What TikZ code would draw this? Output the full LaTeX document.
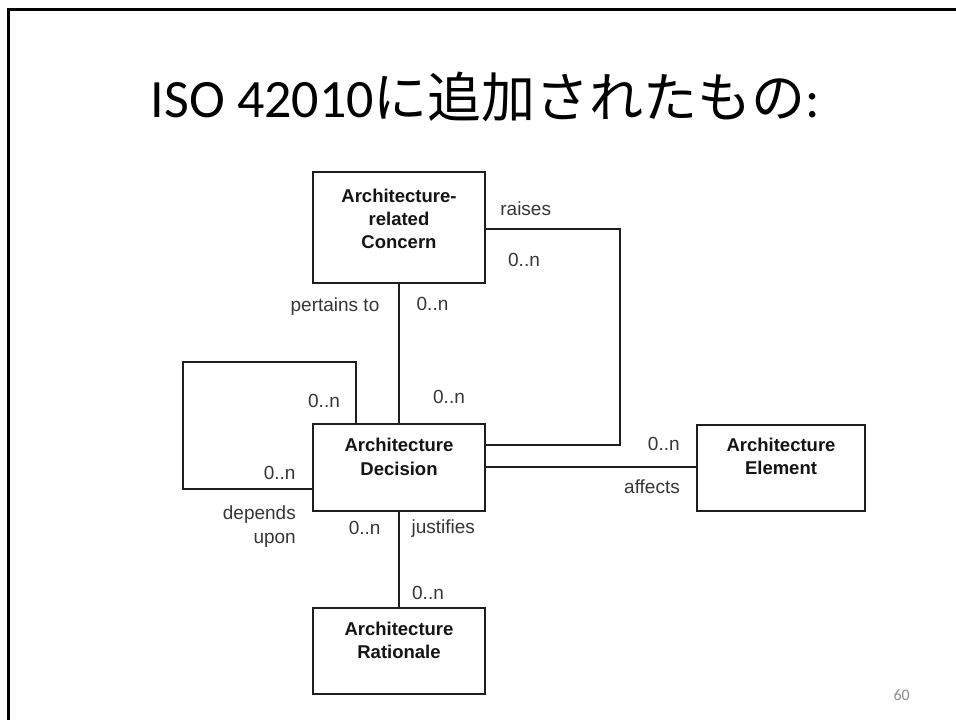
\documentclass[tikz,border=0pt]{standalone}
\usepackage{fontspec}
\setmainfont{Liberation Sans}
\newfontfamily\titlefont{Carlito}
\newfontfamily\cjk{Noto Sans CJK JP}
\usetikzlibrary{calc}
\definecolor{linecol}{HTML}{1E1E1E}
\definecolor{boldcol}{HTML}{141414}
\definecolor{labcol}{HTML}{363636}
\definecolor{pagecol}{HTML}{8C8C8C}
\tikzset{
  box/.style={draw=linecol, line width=1.8pt, fill=white, rectangle, inner sep=0pt},
  boxtext/.style={font=\fontsize{18.5}{23.3}\selectfont\bfseries, text=boldcol, align=center, inner sep=0pt},
  lab/.style={font=\fontsize{19}{24}\selectfont, text=labcol, inner sep=0pt},
  conn/.style={draw=linecol, line width=1.8pt, line cap=rect},
  frame/.style={draw=black, line width=3pt}
}
\begin{document}
\begin{tikzpicture}[x=1pt,y=-1pt]
\useasboundingbox (0,0) rectangle (956,720);
\fill[white] (0,0) rectangle (956,720);
% slide frame
\coordinate (f1) at (956,9.5);
\coordinate (f2) at (8.7,9.5);
\coordinate (f3) at (8.7,720);
\draw[frame] (f1) -- (f2) -- (f3);
% title
\node[anchor=base, inner sep=0pt, font=\fontsize{54}{60}\selectfont] (title) at (485.5,117.3)
  {\titlefont ISO 42010\cjk に追加されたもの\titlefont :};
% boxes
\node[box, minimum width=172pt, minimum height=111pt] (con) at (399,227.5) {};
\node[box, minimum width=172pt, minimum height=87pt] (dec) at (399,467.5) {};
\node[box, minimum width=172pt, minimum height=86pt] (rat) at (399,651) {};
\node[box, minimum width=168pt, minimum height=86pt] (ele) at (781,468) {};
% box texts
\node[boxtext] (cont) at (399,219) {Architecture-\\related\\Concern};
\node[boxtext] (dect) at (399,457) {Architecture\\Decision};
\node[boxtext] (ratt) at (399,640.5) {Architecture\\Rationale};
\node[boxtext] (elet) at (781,456.5) {Architecture\\Element};
% helper coordinates
\coordinate (r1) at (620,229);
\coordinate (r2) at (620,445);
\coordinate (a1) at (600,466.7);
\coordinate (l1) at (183,489);
\coordinate (l2) at (183,362);
\coordinate (l3) at (356,362);
% connectors
\draw[conn] (con.south) -- (dec.north);
\draw[conn] (con.east |- r1) -- (r1) -- (r2) -- (dec.east |- r2);
\draw[conn] (dec.east |- a1) -- (ele.west |- a1);
\draw[conn] (dec.west |- l1) -- (l1) -- (l2) -- (l3) -- (l3 |- dec.north);
\draw[conn] (dec.south) -- (rat.north);
% labels
\node[lab] (lraises) at (525.7,209) {raises};
\node[lab] (m1) at (524,260) {0..n};
\node[lab] (lpert) at (335,306.5) {pertains to};
\node[lab] (m2) at (432.5,304) {0..n};
\node[lab] (m3) at (324,400.7) {0..n};
\node[lab] (m4) at (449,396.7) {0..n};
\node[lab] (m5) at (279.7,473.3) {0..n};
\node[lab, align=right, anchor=east, font=\fontsize{19}{24}\selectfont] (ldep) at (296,527) {depends\\upon};
\node[lab] (m6) at (364.7,528.3) {0..n};
\node[lab] (ljust) at (443.3,528.3) {justifies};
\node[lab] (m7) at (428,592.7) {0..n};
\node[lab] (m8) at (663.8,444) {0..n};
\node[lab] (laff) at (652,487) {affects};
% page number
\node[inner sep=0pt, text=pagecol, font=\titlefont\fontsize{16}{18}\selectfont] (page) at (901.7,695) {60};
\end{tikzpicture}
\end{document}
